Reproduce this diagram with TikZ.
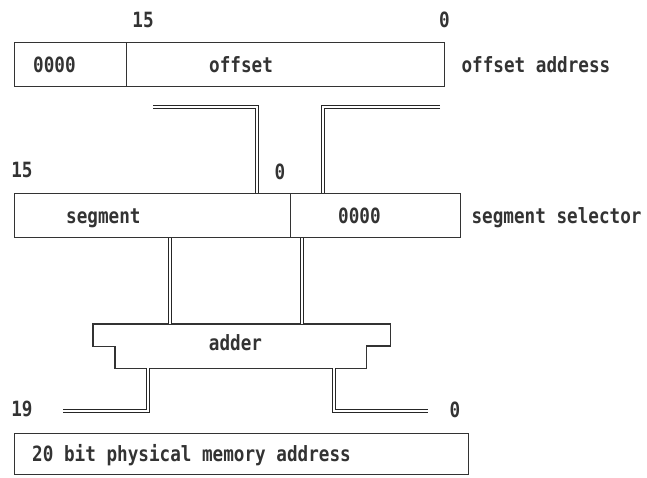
\documentclass[tikz,border=0pt]{standalone}
\usepackage{fontspec}
\newfontfamily\diagfont[FakeStretch=0.84]{DejaVu Sans Mono Bold}
\usetikzlibrary{positioning,calc}
\tikzset{
  cell/.style={draw=black!80, line width=1.4pt, rectangle, minimum height=44pt,
    inner sep=0pt, anchor=north west},
  txt/.style={font=\diagfont\fontsize{21}{23}\selectfont, text=black!80,
    inner sep=0pt, text height=15.3pt, text depth=0pt},
  bus/.style={draw=black!85, line width=1pt, double, double distance=1.6pt},
  outline/.style={draw=black!80, line width=1.4pt},
}
\begin{document}
\begin{tikzpicture}[x=1pt, y=-1pt]
  \useasboundingbox (0,0) rectangle (647,477);
  % offset address
  \node[cell, minimum width=112pt] (offz) at (14,42) {};
  \node[cell, minimum width=318pt] (offs) at (126,42) {};
  \node[txt, right=19pt of offz.west] (offzt) {0000};
  \node[txt, right=83pt of offs.west] (offst) {offset};
  \node[txt, right=16pt of offs] (offlab) {offset address};
  \node[txt] (off15) at (143,20) {15};
  \node[txt] (off0) at (444.5,20) {0};
  % segment selector
  \node[cell, minimum width=276pt] (segr) at (14,193) {};
  \node[cell, minimum width=170pt] (segz) at (290,193) {};
  \node[txt, right=52pt of segr.west] (segrt) {segment};
  \node[txt, right=48pt of segz.west] (segzt) {0000};
  \node[txt, right=10pt of segz] (seglab) {segment selector};
  \node[txt] (seg15) at (22,170) {15};
  \node[txt] (seg0) at (280,172) {0};
  % adder
  \node[txt, anchor=north, minimum width=297pt, minimum height=44pt,
    text height=8pt, xshift=-6pt] (adderlab) at (241.5,324) {adder};
  \node[anchor=north, minimum width=297pt, minimum height=44pt,
    inner sep=0pt] (adder) at (241.5,324) {};
  \draw[outline] (adder.north west) -- (adder.north east) -- ++(0,22) -- ++(-24,0)
    |- ([xshift=22pt]adder.south west) -- ++(0,-22) -- ++(-22,0) -- cycle;
  % physical address
  \node[cell, minimum width=454pt, minimum height=41pt] (phys) at (14,433) {};
  \node[txt, right=18pt of phys.west] (physt) {20 bit physical memory address};
  \node[txt] (ph19) at (22,409) {19};
  \node[txt] (ph0) at (455,410) {0};
  % buses
  \coordinate (busa) at (153,107);
  \coordinate (busb) at (440,107);
  \coordinate (busc) at (63,411);
  \coordinate (busd) at (428,411);
  \coordinate (segl) at ([xshift=156pt]segr.south west);
  \coordinate (segm) at ([xshift=12pt]segz.south west);
  \draw[bus] (busa) -| ([xshift=-33pt]segz.north west);
  \draw[bus] (busb) -| ([xshift=33pt]segz.north west);
  \draw[bus] (segl) -- (segl |- adder.north);
  \draw[bus] (segm) -- (segm |- adder.north);
  \draw[bus] ([xshift=55pt]adder.south west) |- (busc);
  \draw[bus] ([xshift=-56pt]adder.south east) |- (busd);
\end{tikzpicture}
\end{document}
